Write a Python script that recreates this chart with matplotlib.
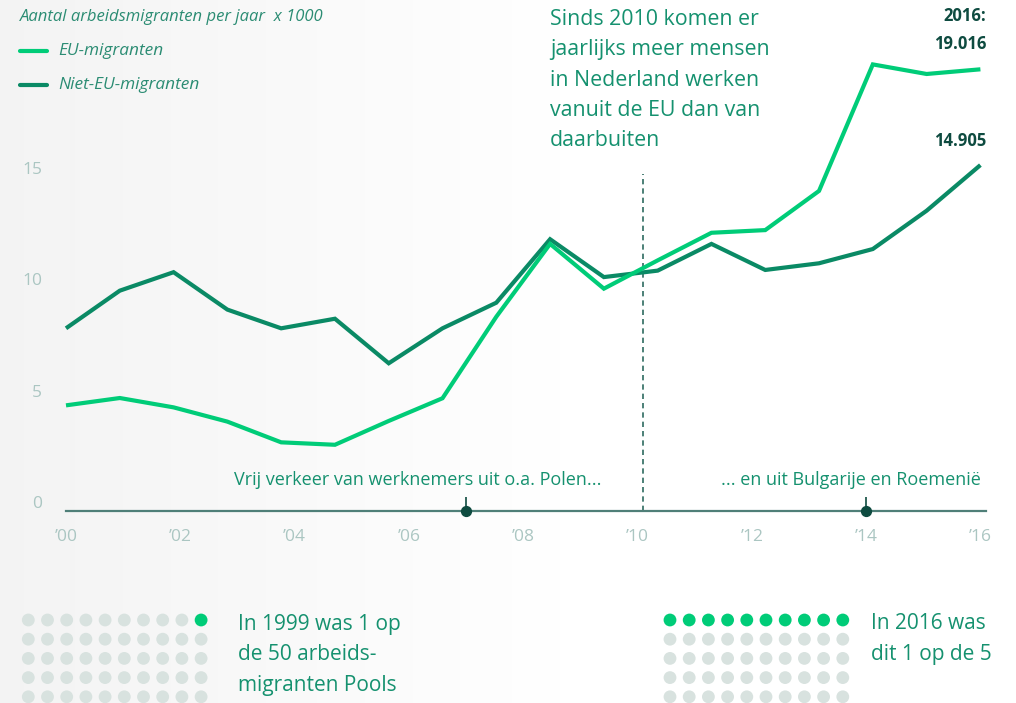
import numpy as np
import matplotlib
matplotlib.use("Agg")
import matplotlib.pyplot as plt
from matplotlib.lines import Line2D

# ---------------- data ----------------
years = list(range(1999, 2017))
eu_migrants = [4.73, 5.06, 4.64, 4.00, 3.07, 2.96, 4.03, 5.05, 8.71, 11.98,
               9.97, 11.24, 12.48, 12.60, 14.36, 20.04, 19.61, 19.82]
non_eu_migrants = [8.19, 9.88, 10.71, 9.03, 8.19, 8.62, 6.62, 8.19, 9.34, 12.19,
                   10.49, 10.78, 11.98, 10.81, 11.11, 11.75, 13.47, 15.52]
tick_years = [2000, 2002, 2004, 2006, 2008, 2010, 2012, 2014, 2016]
tick_labels = ["\u201900", "\u201902", "\u201904", "\u201906", "\u201908",
               "\u201910", "\u201912", "\u201914", "\u201916"]
y_ticks = [0, 5, 10, 15]
event_years = [2007, 2014]
event_labels = ["Vrij verkeer van werknemers uit o.a. Polen...",
                "... en uit Bulgarije en Roemenië"]
split_year = 2010.1
end_labels = ["2016:\n19.016", "14.905"]
share_1999 = 1   # out of 50
share_2016 = 10  # out of 50

# ---------------- style ----------------
W, H = 1016, 703
FONT = "Open Sans"
C_EU = "#00cc78"
C_NON = "#0a8a65"
C_TEXT = "#15916f"
C_TICK = "#abc6c2"
C_DARK = "#0e4b40"
C_AXIS = "#4f7f78"
C_DOT = "#d8e2df"

plt.rcParams["font.family"] = [FONT, "DejaVu Sans"]

fig = plt.figure(figsize=(W / 100, H / 100), dpi=100)

def fx(px):
    return px / W

def fy(py):
    return 1 - py / H

# background gradient
bg = fig.add_axes([0, 0, 1, 1], zorder=-10)
grad = np.linspace(0, 1, 256)
grad = np.clip(grad / 0.55, 0, 1)
col = np.empty((1, 256, 3))
for k in range(3):
    col[0, :, k] = 0.955 + (1.0 - 0.955) * grad
bg.imshow(col, aspect="auto", extent=[0, 1, 0, 1])
bg.set_axis_off()

# main data axes spanning figure, scales chosen to map years/values to layout
ax = fig.add_axes([0, 0, 1, 1])
ax.patch.set_alpha(0)
px_per_year = 57.15
x0_px = 66
y0_px = 510.7
px_per_unit = 22.27
ax.set_xlim(2000 - x0_px / px_per_year, 2000 + (W - x0_px) / px_per_year)
ax.set_ylim((y0_px - H) / px_per_unit, y0_px / px_per_unit)
ax.set_axis_off()

x_data = np.linspace(2000, 2016, len(years))
axis_end = 2016.1

ax.plot(x_data, non_eu_migrants, color=C_NON, lw=3.0, solid_joinstyle="miter",
        solid_capstyle="butt", zorder=3)
ax.plot(x_data, eu_migrants, color=C_EU, lw=3.0, solid_joinstyle="miter",
        solid_capstyle="butt", zorder=4)

# baseline
ax.plot([x_data[0], axis_end], [0, 0], color=C_AXIS, lw=1.6, zorder=2)

# x tick labels
for yr, lab in zip(tick_years, tick_labels):
    ax.text(yr, -1.18, lab, ha="center", va="center", fontsize=12.5, color=C_TICK)

# y tick labels
for v in y_ticks:
    ax.text(2000 - 24 / px_per_year, v + 0.3, str(v), ha="right", va="center",
            fontsize=12.5, color=C_TICK)

# split line
ax.plot([split_year, split_year], [0, 15.1], color="#2e6b60", lw=1.2,
        dashes=(3.2, 2.4), zorder=1)

# events
ax.vlines(event_years, 0, 0.62, color=C_DARK, lw=1.2, zorder=5)
ax.scatter(event_years, [0, 0], s=50, color=C_DARK, zorder=6)
fig.text(fx(602), fy(480), event_labels[0], ha="right", va="center",
         fontsize=13, color=C_TEXT)
fig.text(fx(981), fy(480), event_labels[1], ha="right", va="center",
         fontsize=13, color=C_TEXT)

# title & legend
fig.text(fx(20), fy(17), "Aantal arbeidsmigranten per jaar  x 1000", ha="left",
         va="center", fontsize=12, style="italic", color="#2b8c73")
for yy, c, lab in [(51, C_EU, "EU-migranten"), (85, C_NON, "Niet-EU-migranten")]:
    fig.add_artist(Line2D([fx(20), fx(47)], [fy(yy), fy(yy)], color=c, lw=3.0,
                          solid_capstyle="round"))
    fig.text(fx(58), fy(yy), lab, ha="left", va="center", fontsize=12.4,
             style="italic", color="#2b8c73")

# annotation
fig.text(fx(550), fy(80),
         "Sinds 2010 komen er\njaarlijks meer mensen\nin Nederland werken\nvanuit de EU dan van\ndaarbuiten",
         ha="left", va="center", fontsize=15.4, color=C_TEXT, linespacing=1.585)

# end labels
fig.text(fx(986), fy(30), end_labels[0], ha="right", va="center", fontsize=12,
         fontweight="bold", color=C_DARK, linespacing=1.65)
fig.text(fx(986), fy(141), end_labels[1], ha="right", va="center", fontsize=12,
         fontweight="bold", color=C_DARK)

# dot grids
def dot_grid(left_px, n_green):
    spacing = 19.2
    rows, cols = 5, 10
    top_px = 620
    axd = fig.add_axes([fx(left_px - spacing / 2), fy(top_px - spacing / 2 + rows * spacing),
                        cols * spacing / W, rows * spacing / H])
    axd.set_xlim(-0.5, cols - 0.5)
    axd.set_ylim(rows - 0.5, -0.5)
    axd.set_axis_off()
    cc, rr = np.meshgrid(np.arange(cols), np.arange(rows))
    order = rr * cols + (cols - 1 - cc)
    colors = np.where(order.ravel() < n_green, C_EU, C_DOT)
    axd.scatter(cc.ravel(), rr.ravel(), s=85, c=colors, linewidths=0)

dot_grid(28.3, share_1999)
dot_grid(670, share_2016)

fig.text(fx(238), fy(655), "In 1999 was 1 op\nde 50 arbeids-\nmigranten Pools",
         ha="left", va="center", fontsize=15, color=C_TEXT, linespacing=1.62)
fig.text(fx(871), fy(639), "In 2016 was\ndit 1 op de 5",
         ha="left", va="center", fontsize=15, color=C_TEXT, linespacing=1.62)

fig.savefig("out.png", dpi=100)
